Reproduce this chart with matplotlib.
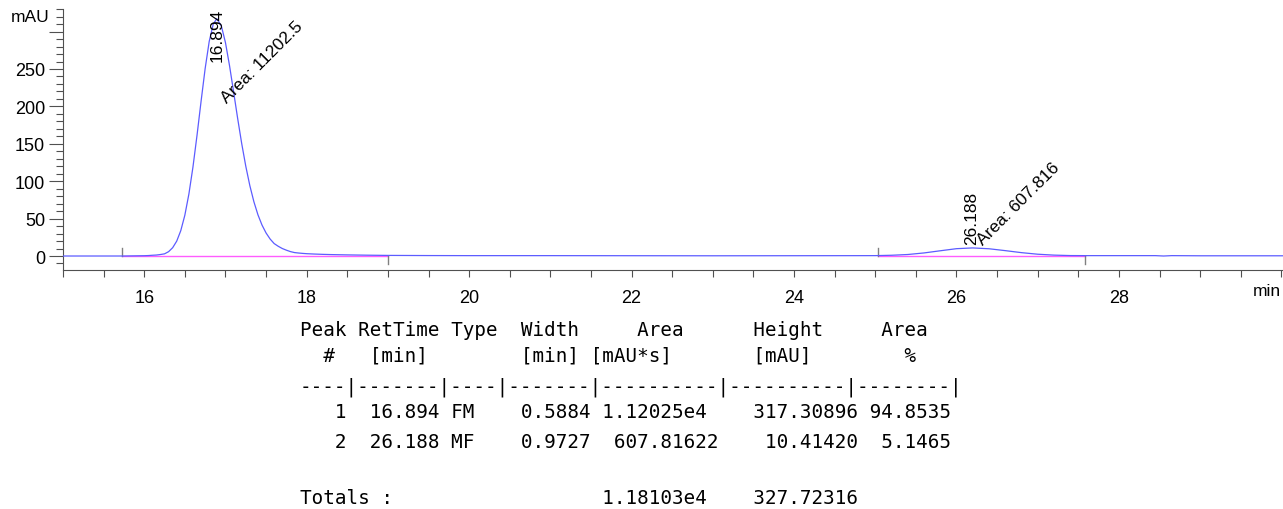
import matplotlib.pyplot as plt
from matplotlib.ticker import MultipleLocator

# chromatogram (min, mAU)
time = [15.0, 15.5, 15.73, 16.0, 16.05, 16.1, 16.15, 16.2, 16.25, 16.3, 16.35,
        16.4, 16.45, 16.5, 16.55, 16.6, 16.65, 16.7, 16.75, 16.8, 16.85, 16.894,
        16.95, 17.0, 17.05, 17.1, 17.15, 17.2, 17.25, 17.3, 17.35, 17.4, 17.45,
        17.5, 17.55, 17.6, 17.65, 17.7, 17.75, 17.8, 17.85, 17.9, 17.95, 18.0,
        18.1, 18.2, 18.3, 18.5, 18.75, 19.0, 19.5, 20.0, 21.0, 22.0, 23.0, 24.0,
        25.0, 25.2, 25.4, 25.6, 25.8, 26.0, 26.2, 26.4, 26.6, 26.8, 27.0, 27.2,
        27.4, 27.6, 28.0, 28.45, 28.55, 28.65, 29.0, 30.02]
signal = [0.0, 0.0, 0.0, 0.4, 0.6, 1.0, 1.3, 2.0, 2.9, 5.8, 11.1,
          19.9, 33.9, 54.5, 82.9, 119.0, 161.4, 206.9, 250.5, 286.8, 310.1, 317.3,
          307.4, 285.3, 254.6, 219.7, 184.1, 150.4, 120.2, 94.2, 72.6, 55.1, 41.4,
          30.8, 22.7, 16.6, 13.0, 10.0, 7.8, 5.9, 4.6, 4.0, 3.5, 3.1,
          2.6, 2.2, 1.9, 1.5, 1.1, 0.8, 0.6, 0.5, 0.5, 0.4, 0.3, 0.4,
          0.5, 1.0, 2.0, 4.1, 7.0, 9.8, 10.8, 9.7, 7.2, 4.5, 2.4, 1.2,
          0.6, 0.5, 0.5, 0.5, 0.0, 0.5, 0.3, 0.3]

# integration baselines (start, end)
base_start = [15.73, 25.03]
base_end = [19.0, 27.58]

peak_rt = ['16.894', '26.188']
peak_area = ['Area: 11202.5', 'Area: 607.816']

table_rows = [
    "Peak RetTime Type  Width     Area      Height     Area",
    "  #   [min]        [min] [mAU*s]       [mAU]        %",
    "----|-------|----|-------|----------|----------|--------|",
    "   1  16.894 FM    0.5884 1.12025e4    317.30896 94.8535",
    "   2  26.188 MF    0.9727  607.81622    10.41420  5.1465",
    "",
    "Totals :                  1.18103e4    327.72316",
]
row_y = [331, 356, 387, 413, 443, None, 499]

plt.rcParams['font.family'] = ['Liberation Sans', 'DejaVu Sans']

fig = plt.figure(figsize=(12.83, 5.10), dpi=100)
W, H = 1283, 510
ax = fig.add_axes([63 / W, 1 - 271 / H, (W - 63) / W, (271 - 10) / H])

ax.plot(time, signal, color='#5c5cff', lw=0.9, zorder=3)
for s, e in zip(base_start, base_end):
    ax.plot([s, e], [0, 0], color='#ff5cff', lw=1.0, zorder=2)
    ax.plot([s, s], [0, 11], color='#808080', lw=1.0, zorder=2)
    ax.plot([e, e], [0, -11], color='#808080', lw=1.0, zorder=2)

ax.text(16.894, 261, peak_rt[0], rotation=90, ha='center', va='bottom', fontsize=12.5)
ax.text(17.02, 205, peak_area[0], rotation=45, rotation_mode='anchor',
        ha='left', va='baseline', fontsize=12.5)
ax.text(26.19, 16, peak_rt[1], rotation=90, ha='center', va='bottom', fontsize=12.5)
ax.text(26.33, 15, peak_area[1], rotation=45, rotation_mode='anchor',
        ha='left', va='baseline', fontsize=12.5)

ax.set_xlim(15.0, 30.02)
ax.set_ylim(-18.7, 330.2)
ax.set_xticks([16, 18, 20, 22, 24, 26, 28])
ax.xaxis.set_minor_locator(MultipleLocator(0.5))
ax.set_yticks([0, 50, 100, 150, 200, 250, 300])
ax.set_yticklabels(['0', '50', '100', '150', '200', '250', ''])
ax.yaxis.set_minor_locator(MultipleLocator(10))

for side in ['top', 'right']:
    ax.spines[side].set_visible(False)
for side in ['left', 'bottom']:
    ax.spines[side].set_color('#505050')
    ax.spines[side].set_linewidth(0.8)
ax.tick_params(which='both', width=0.8, color='#505050', labelsize=13)
ax.tick_params(axis='y', which='major', length=10, pad=3)
ax.tick_params(axis='y', which='minor', length=5)
ax.tick_params(axis='x', which='both', length=5, pad=9)

fig.text(11 / W, 1 - 18 / H, 'mAU', ha='left', va='center', fontsize=12.5)
fig.text(1281 / W, 1 - 292 / H, 'min', ha='right', va='center', fontsize=12.5)

for line, y in zip(table_rows, row_y):
    if y is None:
        continue
    fig.text(300 / W, 1 - y / H, line, ha='left', va='center',
             fontsize=13.9, family='DejaVu Sans Mono')

fig.savefig('out.png', dpi=100)
